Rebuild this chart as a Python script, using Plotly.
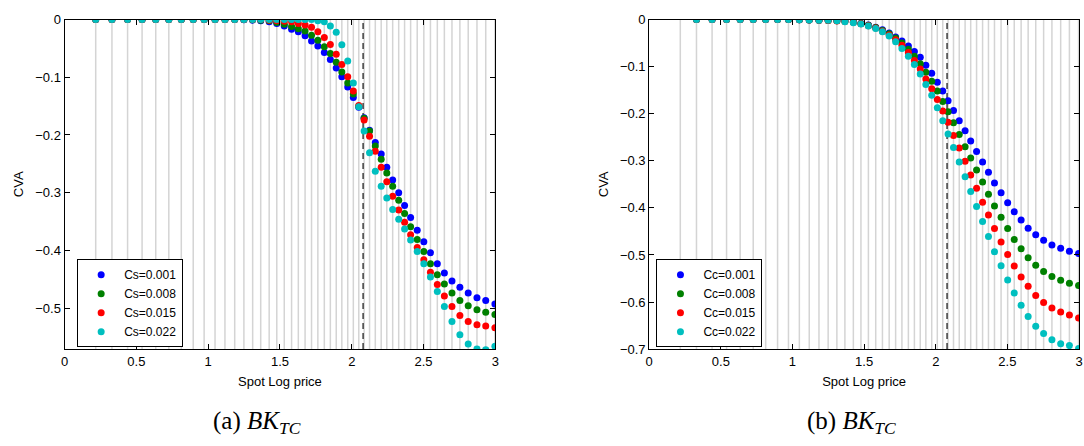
import plotly.graph_objects as go

# Spot log-price mesh used by the solver (both panels share it)
log_spot = [0.217, 0.330, 0.439, 0.540, 0.635, 0.726, 0.813, 0.896, 0.972, 1.048,
            1.117, 1.185, 1.249, 1.310, 1.366, 1.425, 1.478, 1.530, 1.581, 1.628,
            1.675, 1.720, 1.764, 1.809, 1.851, 1.892, 1.931, 1.972, 2.011, 2.049,
            2.086, 2.124, 2.164, 2.205, 2.244, 2.285, 2.327, 2.368, 2.410, 2.456,
            2.502, 2.548, 2.596, 2.645, 2.698, 2.753, 2.811, 2.872, 2.933, 2.997]
strike_log = 2.079  # ln(8)

# Panel (a): CVA for several Cs values
cva_cs_001 = [0, 0, 0, 0, 0, 0, 0, 0, 0, 0,
              0, 0, -0.0005, -0.001, -0.002, -0.004, -0.007, -0.011, -0.017, -0.021,
              -0.028, -0.037, -0.046, -0.057, -0.069, -0.084, -0.099, -0.117, -0.135, -0.152,
              -0.170, -0.192, -0.213, -0.233, -0.256, -0.278, -0.300, -0.322, -0.343, -0.365,
              -0.385, -0.404, -0.423, -0.439, -0.453, -0.464, -0.474, -0.482, -0.487, -0.493]
cva_cs_008 = [0, 0, 0, 0, 0, 0, 0, 0, 0, 0,
              0, 0, 0, -0.0005, -0.001, -0.002, -0.005, -0.008, -0.012, -0.016,
              -0.020, -0.027, -0.036, -0.047, -0.059, -0.074, -0.091, -0.110, -0.129, -0.150,
              -0.171, -0.193, -0.219, -0.242, -0.266, -0.289, -0.313, -0.336, -0.359, -0.381,
              -0.402, -0.423, -0.442, -0.458, -0.474, -0.487, -0.496, -0.503, -0.507, -0.511]
cva_cs_015 = [0, 0, 0, 0, 0, 0, 0, 0, 0, 0,
              0, 0, 0, 0, 0, -0.001, -0.002, -0.003, -0.004, -0.007,
              -0.0095, -0.0135, -0.021, -0.031, -0.043, -0.060, -0.078, -0.099, -0.124, -0.149,
              -0.174, -0.202, -0.228, -0.256, -0.281, -0.306, -0.330, -0.351, -0.373, -0.395,
              -0.416, -0.438, -0.459, -0.479, -0.497, -0.513, -0.523, -0.529, -0.531, -0.534]
cva_cs_022 = [0, 0, 0, 0, 0, 0, 0, 0, 0, 0,
              0, 0, 0, 0, 0, 0, 0, 0, 0, 0,
              0, 0, -0.002, -0.004, -0.011, -0.022, -0.0435, -0.072, -0.110, -0.151,
              -0.193, -0.231, -0.263, -0.289, -0.309, -0.329, -0.346, -0.363, -0.382, -0.402,
              -0.423, -0.446, -0.471, -0.497, -0.523, -0.546, -0.562, -0.571, -0.572, -0.566]

# Panel (b): CVA for several Cc values (first mesh node not reported)
cva_cc_001 = [None, 0, 0, 0, 0, 0, 0, 0, 0, -0.0005,
              -0.001, -0.0013, -0.0017, -0.002, -0.0027, -0.0047, -0.008, -0.0116, -0.0164, -0.0218,
              -0.0287, -0.037, -0.0458, -0.056, -0.0678, -0.080, -0.097, -0.114, -0.133, -0.152,
              -0.1725, -0.193, -0.215, -0.236, -0.258, -0.2805, -0.3025, -0.3245, -0.347, -0.368,
              -0.389, -0.408, -0.426, -0.4435, -0.457, -0.469, -0.479, -0.486, -0.492, -0.497]
cva_cc_008 = [None, 0, 0, 0, 0, 0, 0, 0, 0, -0.0005,
              -0.001, -0.0014, -0.002, -0.0025, -0.0035, -0.005, -0.0085, -0.012, -0.017, -0.023,
              -0.030, -0.039, -0.050, -0.063, -0.078, -0.094, -0.112, -0.131, -0.152, -0.174,
              -0.196, -0.219, -0.244, -0.270, -0.2943, -0.3196, -0.345, -0.371, -0.396, -0.420,
              -0.444, -0.467, -0.4867, -0.5058, -0.522, -0.535, -0.546, -0.554, -0.560, -0.5647]
cva_cc_015 = [None, 0, 0, 0, 0, 0, 0, 0, 0, -0.0005,
              -0.001, -0.0015, -0.002, -0.003, -0.004, -0.0055, -0.009, -0.013, -0.018, -0.025,
              -0.033, -0.043, -0.0547, -0.0698, -0.0869, -0.105, -0.126, -0.147, -0.170, -0.194,
              -0.2183, -0.2464, -0.273, -0.301, -0.330, -0.3585, -0.388, -0.4154, -0.444, -0.4723,
              -0.499, -0.5236, -0.547, -0.5667, -0.586, -0.601, -0.6125, -0.621, -0.6276, -0.6337]
cva_cc_022 = [None, 0, 0, 0, 0, 0, 0, 0, 0, -0.0005,
              -0.001, -0.0013, -0.0013, -0.0027, -0.0047, -0.0068, -0.0095, -0.0136, -0.019, -0.026,
              -0.035, -0.047, -0.0616, -0.078, -0.0957, -0.1156, -0.138, -0.161, -0.1875, -0.215,
              -0.243, -0.272, -0.3025, -0.334, -0.3655, -0.397, -0.429, -0.461, -0.493, -0.523,
              -0.553, -0.581, -0.607, -0.631, -0.6515, -0.667, -0.680, -0.6885, -0.6926, -0.699]

cs_labels = ["Cs=0.001", "Cs=0.008", "Cs=0.015", "Cs=0.022"]
cc_labels = ["Cc=0.001", "Cc=0.008", "Cc=0.015", "Cc=0.022"]
colors = ["#0000ff", "#008000", "#ff0000", "#00bfbf"]
x_ticks = [0, 0.5, 1, 1.5, 2, 2.5, 3]

W, H = 1084, 446
FONT = "Liberation Sans, Arial, Helvetica, sans-serif"
SERIF = "Liberation Serif, Times New Roman, serif"

fig = go.Figure()

for ys, name, col in zip([cva_cs_001, cva_cs_008, cva_cs_015, cva_cs_022], cs_labels, colors):
    fig.add_trace(go.Scatter(x=log_spot, y=ys, mode="markers", name=name,
                             marker=dict(color=col, size=7, line=dict(width=0)),
                             xaxis="x", yaxis="y", legend="legend"))
for ys, name, col in zip([cva_cc_001, cva_cc_008, cva_cc_015, cva_cc_022], cc_labels, colors):
    fig.add_trace(go.Scatter(x=log_spot, y=ys, mode="markers", name=name,
                             marker=dict(color=col, size=7, line=dict(width=0)),
                             xaxis="x2", yaxis="y2", legend="legend2"))

# Mesh lines and strike marker in each panel
shapes = []
for xr, yr in [("x", "y domain"), ("x2", "y2 domain")]:
    for xv in log_spot:
        shapes.append(dict(type="line", xref=xr, yref=yr, x0=xv, x1=xv, y0=0, y1=1,
                           line=dict(color="#d4d4d4", width=1.5), layer="below"))
    shapes.append(dict(type="line", xref=xr, yref=yr, x0=strike_log, x1=strike_log, y0=0, y1=1,
                       line=dict(color="#222222", width=1.3, dash="6px,4px"), layer="below"))

ydom = [1 - 354 / H, 1 - 13 / H]
axis_common = dict(showline=True, linecolor="black", linewidth=1, mirror="ticks",
                   ticks="inside", ticklen=5, tickcolor="black", showgrid=False,
                   zeroline=False, tickfont=dict(size=13, color="black"))

legend_common = dict(bgcolor="white", bordercolor="black", borderwidth=1,
                     font=dict(size=12, color="black"), xanchor="left", yanchor="bottom",
                     itemwidth=36, tracegroupgap=0)

fig.update_layout(
    width=W, height=H, autosize=False,
    margin=dict(l=0, r=0, t=0, b=0),
    paper_bgcolor="white", plot_bgcolor="white",
    font=dict(family=FONT, size=13, color="black"),
    shapes=shapes,
    xaxis=dict(domain=[61 / W, 495 / W], range=[0, 3], tickvals=x_ticks,
               title=dict(text="Spot Log price", font=dict(size=13), standoff=9),
               anchor="y", **axis_common),
    yaxis=dict(domain=ydom, range=[-0.571, 0], dtick=0.1,
               title=dict(text="CVA", font=dict(size=13), standoff=8),
               anchor="x", **axis_common),
    xaxis2=dict(domain=[650 / W, 1083 / W], range=[0, 3], tickvals=x_ticks,
                title=dict(text="Spot Log price", font=dict(size=13), standoff=9),
                anchor="y2", **axis_common),
    yaxis2=dict(domain=ydom, range=[-0.7, 0], dtick=0.1,
                title=dict(text="CVA", font=dict(size=13), standoff=8),
                anchor="x2", **axis_common),
    legend=dict(x=73.7 / W, y=1 - 352 / H, **legend_common),
    legend2=dict(x=657.3 / W, y=1 - 352 / H, **legend_common),
    annotations=[
        dict(text="(a) <i>BK</i><sub><i>TC</i></sub>", x=255 / W, y=1 - 430 / H,
             xref="paper", yref="paper", xanchor="center", yanchor="middle",
             showarrow=False, font=dict(family=SERIF, size=25)),
        dict(text="(b) <i>BK</i><sub><i>TC</i></sub>", x=854 / W, y=1 - 430 / H,
             xref="paper", yref="paper", xanchor="center", yanchor="middle",
             showarrow=False, font=dict(family=SERIF, size=25)),
    ],
)

fig.write_html("out.html")
